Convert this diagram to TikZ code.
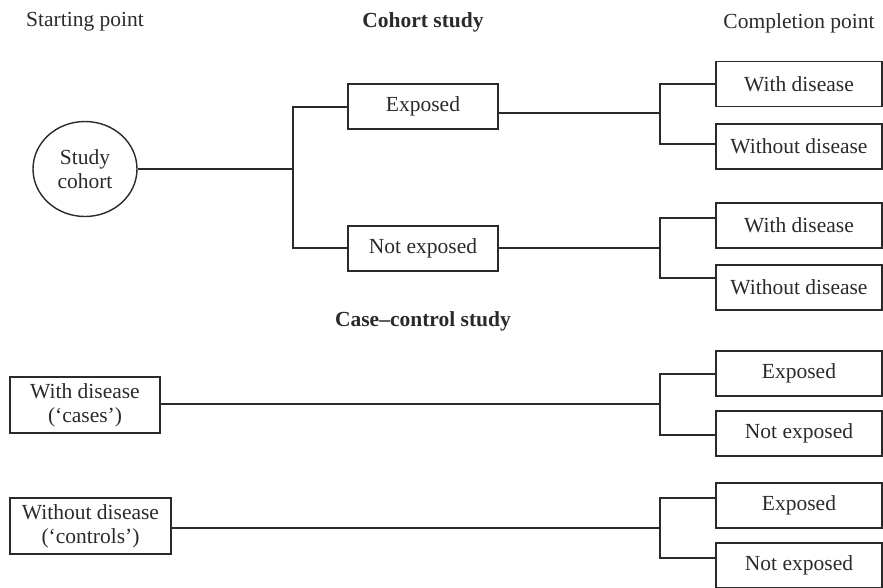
\documentclass[tikz,border=0pt]{standalone}
\usepackage{fontspec}
\setmainfont{Liberation Serif}
\usetikzlibrary{shapes.geometric}
\definecolor{ink}{HTML}{2A2A2A}
\tikzset{
  base/.style={text=ink, font=\fontsize{21.5}{24}\selectfont},
  title/.style={base},
  heading/.style={base, font=\fontsize{21.5}{24}\selectfont\bfseries},
  box/.style={base, draw=ink, line width=1.1pt, inner sep=0pt, align=center},
  midbox/.style={box, minimum width=150pt, minimum height=45pt},
  endbox/.style={box, minimum width=166pt, minimum height=45pt},
  tallbox/.style={box, minimum height=56pt},
  link/.style={draw=ink, line width=1.1pt},
}
\begin{document}
\begin{tikzpicture}[x=1pt, y=-1pt]
\useasboundingbox (0,0) rectangle (883,587);

% column headings
\node[title] (start) at (85,22) {Starting point};
\node[heading] (cohorttitle) at (423,22) {Cohort study};
\node[title] (finish) at (799,23) {Completion point};

% cohort study
\node[box, ellipse, line width=1.4pt, minimum width=104pt, minimum height=95pt] (sc) at (85,169) {Study\\cohort};
\node[midbox] (exp) at (423,106.5) {Exposed};
\node[midbox] (nexp) at (423,248.5) {Not exposed};
\node[endbox] (wd1) at (799,84) {With disease};
\node[endbox] (wod1) at (799,146.5) {Without disease};
\node[endbox] (wd2) at (799,225.5) {With disease};
\node[endbox] (wod2) at (799,287.5) {Without disease};

\coordinate (f1) at (293,169);
\coordinate (f1a) at (293,107);
\coordinate (f1b) at (293,248);
\draw[link] (sc.east |- f1) -- (f1);
\draw[link] (exp.west |- f1a) -- (f1a) -- (f1b) -- (nexp.west |- f1b);

\coordinate (f2) at (660,113);
\coordinate (f2a) at (660,84);
\coordinate (f2b) at (660,144);
\draw[link] (exp.east |- f2) -- (f2);
\draw[link] (wd1.west |- f2a) -- (f2a) -- (f2b) -- (wod1.west |- f2b);

\coordinate (f3) at (660,248);
\coordinate (f3a) at (660,218);
\coordinate (f3b) at (660,278);
\draw[link] (nexp.east |- f3) -- (f3);
\draw[link] (wd2.west |- f3a) -- (f3a) -- (f3b) -- (wod2.west |- f3b);

% case-control study
\node[heading] (cctitle) at (423,321) {Case–control study};
\node[tallbox, minimum width=150pt] (cases) at (85,405) {With disease\\(‘cases’)};
\node[tallbox, minimum width=161pt] (controls) at (90.5,526) {Without disease\\(‘controls’)};
\node[endbox] (ce1) at (799,373.5) {Exposed};
\node[endbox] (cn1) at (799,433.5) {Not exposed};
\node[endbox] (ce2) at (799,505.5) {Exposed};
\node[endbox] (cn2) at (799,565.5) {Not exposed};

\coordinate (f4) at (660,404);
\coordinate (f4a) at (660,374);
\coordinate (f4b) at (660,435);
\draw[link] (cases.east |- f4) -- (f4);
\draw[link] (ce1.west |- f4a) -- (f4a) -- (f4b) -- (cn1.west |- f4b);

\coordinate (f5) at (660,528);
\coordinate (f5a) at (660,498);
\coordinate (f5b) at (660,558);
\draw[link] (controls.east |- f5) -- (f5);
\draw[link] (ce2.west |- f5a) -- (f5a) -- (f5b) -- (cn2.west |- f5b);
\end{tikzpicture}
\end{document}
